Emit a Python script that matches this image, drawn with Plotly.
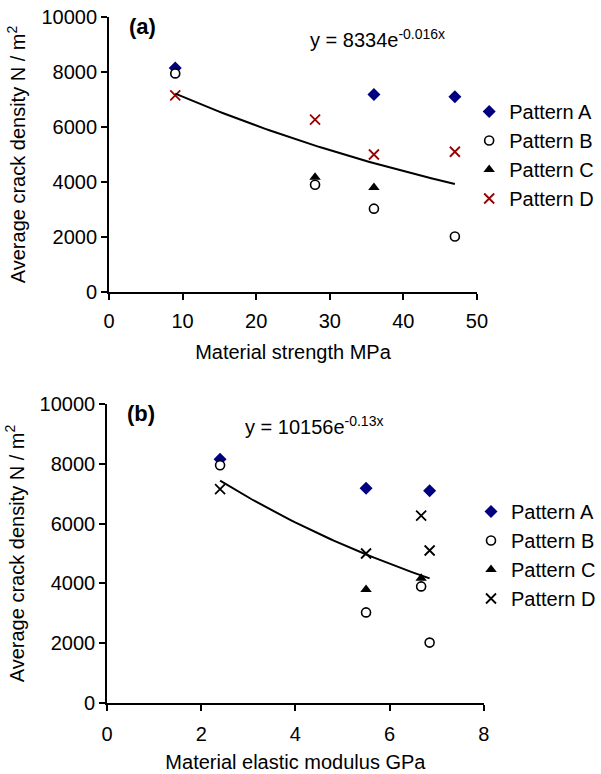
import numpy as np
import plotly.graph_objects as go

W, H = 601, 774

# Material properties of the four test materials
strength_mpa = [9, 28, 36, 47]
modulus_gpa = [2.4, 6.67, 5.5, 6.85]

# Average crack density (N / m^2) per cracking pattern, one value per material
pattern_a = [8150, None, 7180, 7100]
pattern_b = [7950, 3900, 3030, 2020]
pattern_c = [None, 4170, 3800, None]
pattern_d = [7150, 6270, 5000, 5100]

# Exponential trend lines  y = k * exp(r * x)
fit_a = (8334, -0.016)
fit_b = (10156, -0.13)

names = ["Pattern A", "Pattern B", "Pattern C", "Pattern D"]


def px(x, y):
    return x / W, 1 - y / H


def trend(xs, fit):
    xx = np.linspace(min(xs), max(xs), 60)
    return xx, fit[0] * np.exp(fit[1] * xx)


def markers(d_color):
    return {
        "Pattern A": dict(symbol="diamond", size=10, color="#000080",
                          line=dict(width=0)),
        "Pattern B": dict(symbol="circle", size=9, color="white",
                          line=dict(color="black", width=1.6)),
        "Pattern C": dict(symbol="triangle-up", size=10, color="black",
                          line=dict(width=0)),
        "Pattern D": dict(symbol="x-thin-open", size=10, color=d_color,
                          line=dict(color=d_color, width=1.8)),
    }


fig = go.Figure()

series = {"Pattern A": pattern_a, "Pattern B": pattern_b,
          "Pattern C": pattern_c, "Pattern D": pattern_d}
draw_order = ["Pattern A", "Pattern C", "Pattern B", "Pattern D"]

panels = [
    (strength_mpa, fit_a, "x", "y", "legend", "#990000"),
    (modulus_gpa, fit_b, "x2", "y2", "legend2", "black"),
]

for xs, fit, xa, ya, leg, dcol in panels:
    mk = markers(dcol)
    for nm in draw_order:
        fig.add_trace(go.Scatter(
            x=xs, y=series[nm], mode="markers", name=nm,
            marker=mk[nm], xaxis=xa, yaxis=ya, legend=leg,
            legendrank=names.index(nm) + 1,
        ))
    tx, ty = trend(xs, fit)
    fig.add_trace(go.Scatter(
        x=tx, y=ty, mode="lines", line=dict(color="black", width=2),
        xaxis=xa, yaxis=ya, showlegend=False, hoverinfo="skip",
    ))

font_family = "Liberation Sans, Arial, sans-serif"
tick_font = dict(family=font_family, size=20, color="black")
title_font = dict(family=font_family, size=20, color="black")

axis_common = dict(
    showline=True, linecolor="black", linewidth=1.8,
    ticks="outside", ticklen=6, tickwidth=1.5, tickcolor="black",
    showgrid=False, zeroline=False, tickfont=tick_font,
    automargin=False,
)

xa0, ya0 = px(112, 17)
xa1, ya1 = px(490, 292)
xb0, yb0 = px(110, 404)
xb1, yb1 = px(497, 703)

fig.update_layout(
    width=W, height=H, autosize=False,
    margin=dict(l=0, r=0, t=0, b=0),
    paper_bgcolor="white", plot_bgcolor="white",
    font=dict(family=font_family, color="black"),
    xaxis=dict(domain=[xa0, xa1], range=[0, 50], dtick=10, anchor="y",
               ticklabelstandoff=4,
               title=dict(text="Material strength MPa", font=title_font, standoff=14),
               **axis_common),
    yaxis=dict(domain=[ya1, ya0], range=[0, 10000], dtick=2000, anchor="x",
               tickformat="d",
               title=dict(text="Average crack density N / m<sup>2</sup>",
                          font=title_font, standoff=10),
               **axis_common),
    xaxis2=dict(domain=[xb0, xb1], range=[0, 8], dtick=2, anchor="y2",
                ticklabelstandoff=6,
                title=dict(text="Material elastic modulus GPa", font=title_font, standoff=11),
                **axis_common),
    yaxis2=dict(domain=[yb1, yb0], range=[0, 10000], dtick=2000, anchor="x2",
                tickformat="d",
                title=dict(text="Average crack density N / m<sup>2</sup>",
                           font=title_font, standoff=10),
                **axis_common),
    legend=dict(x=px(482, 0)[0], y=px(0, 92)[1], xanchor="left", yanchor="top",
                font=dict(family=font_family, size=20, color="black"),
                bgcolor="rgba(0,0,0,0)", traceorder="normal"),
    legend2=dict(x=px(484, 0)[0], y=px(0, 492)[1], xanchor="left", yanchor="top",
                 font=dict(family=font_family, size=20, color="black"),
                 bgcolor="rgba(0,0,0,0)", traceorder="normal"),
    showlegend=True,
)

annotations = [
    ("<b>(a)</b>", 146, 26, 22),
    ("<b>(b)</b>", 145, 413, 22),
    ("y = 8334e<sup>-0.016x</sup>", 388, 38, 20),
    ("y = 10156e<sup>-0.13x</sup>", 323, 425, 20),
]
for text, x, y, size in annotations:
    ax, ay = px(x, y)
    fig.add_annotation(text=text, x=ax, y=ay, xref="paper", yref="paper",
                       showarrow=False, xanchor="center", yanchor="middle",
                       font=dict(family=font_family, size=size, color="black"))

fig.write_html("out.html")
